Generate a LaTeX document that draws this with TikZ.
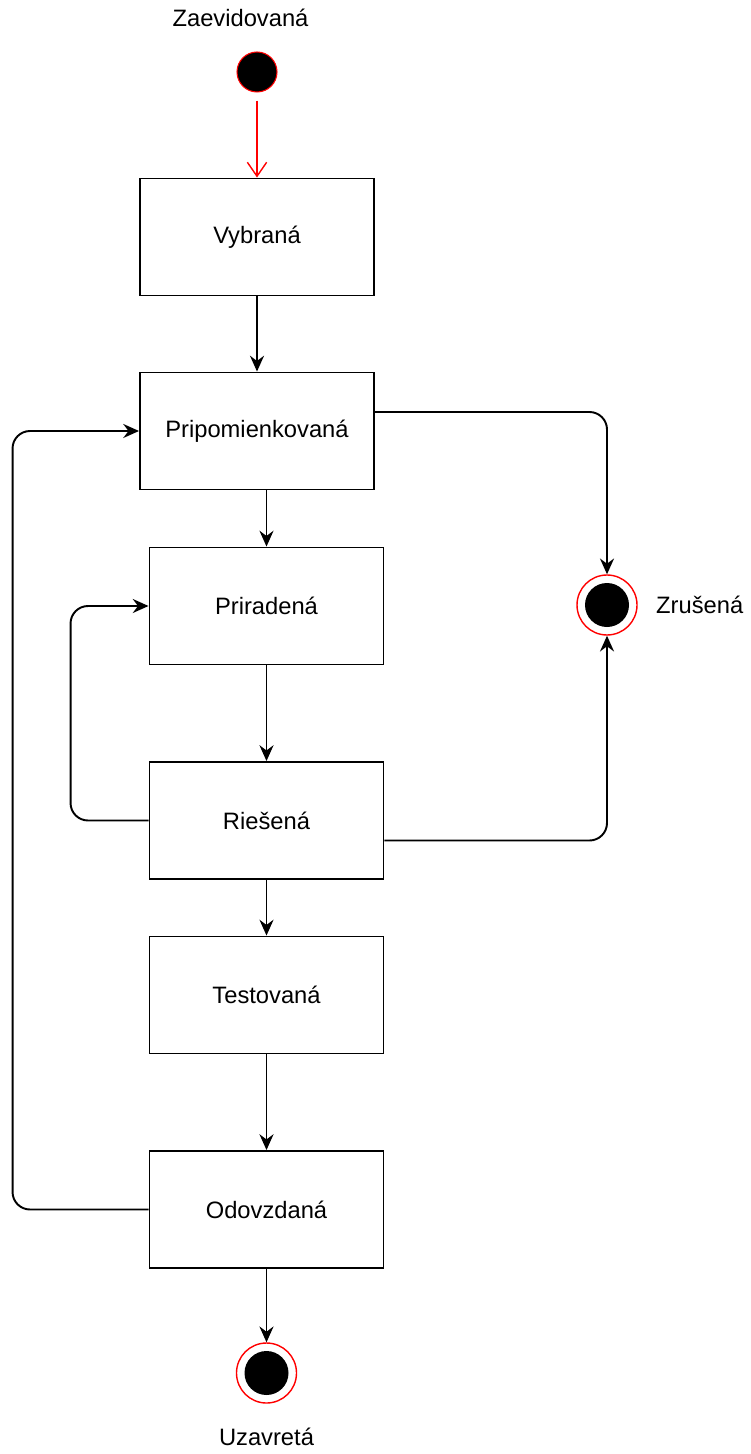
\documentclass[tikz,border=0pt]{standalone}
\usepackage{fontspec}
\setmainfont{Liberation Sans}
\usetikzlibrary{arrows.meta}

\tikzset{
  stav/.style={draw, line width=1.1pt, minimum width=4.68cm, minimum height=2.34cm, font=\fontsize{13.5}{15}\selectfont},
  zaciatok/.style={circle, draw=red, fill=black, line width=0.6pt, minimum size=0.8cm, inner sep=0pt},
  koniec/.style={circle, draw=red, fill=white, line width=0.8pt, minimum size=1.2cm, inner sep=0pt,
    path picture={\fill[black] (path picture bounding box.center) circle (0.44cm);}},
  popis/.style={font=\fontsize{13.5}{15}\selectfont},
  prechod/.style={-{Stealth[length=9pt, width=8pt, inset=3pt]}, line width=1.1pt, rounded corners=0.35cm}
}

\begin{document}
\begin{tikzpicture}
	\useasboundingbox (0,0) rectangle (15.02,-29.08);
	\node[zaciatok] (start) at (5.14,-1.44) {};
	\node[popis] at (4.81,-0.36) {Zaevidovaná};
	\node[stav] (vybrana) at (5.14,-4.74) {Vybraná};
	\node[stav] (pripom) at (5.14,-8.62) {Pripomienkovaná};
	\node[stav] (priradena) at (5.33,-12.12) {Priradená};
	\node[stav] (riesena) at (5.33,-16.41) {Riešená};
	\node[stav] (testovana) at (5.33,-19.9) {Testovaná};
	\node[stav] (odovzdana) at (5.33,-24.19) {Odovzdaná};
	\node[koniec] (zrusena) at (12.14,-12.1) {};
	\node[popis, anchor=west] at (13.0,-12.1) {Zrušená};
	\node[koniec] (uzavreta) at (5.33,-27.46) {};
	\node[popis] at (5.33,-28.74) {Uzavretá};

	\draw[red, line width=0.8pt, -{Straight Barb[length=8pt, width=11pt]}, shorten <=0.16cm] (start) -- (vybrana);
	\draw[prechod] (vybrana) -- (pripom);
	\draw[prechod] (priradena.north |- pripom.south) -- (priradena);
	\draw[prechod] (priradena) -- (riesena);
	\draw[prechod] (riesena) -- (testovana);
	\draw[prechod] (testovana) -- (odovzdana);
	\draw[prechod] (odovzdana) -- (uzavreta);
	\draw[prechod] ([yshift=0.38cm]pripom.east) -| (zrusena.north);
	\draw[prechod] ([yshift=-0.4cm]riesena.east) -| (zrusena.south);
	\draw[prechod] (riesena.west) -- ++(-1.56,0) |- (priradena.west);
	\draw[prechod] (odovzdana.west) -- ++(-2.72,0) |- (pripom.west);
\end{tikzpicture}
\end{document}
